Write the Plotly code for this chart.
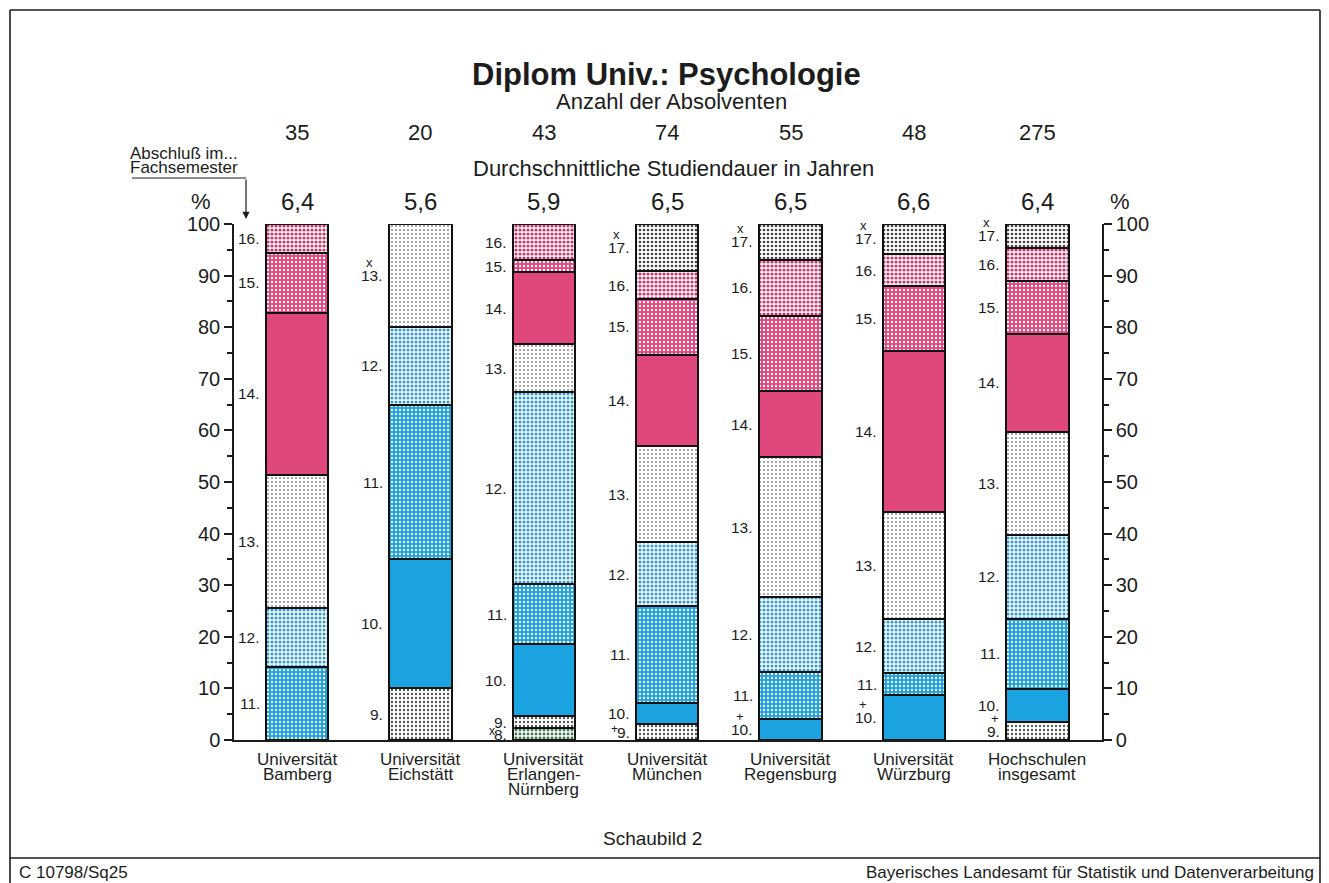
import plotly.graph_objects as go

# Diplom Univ.: Psychologie - Abschluss nach Fachsemester (Anteile in %)
universities = [
    "Universität\nBamberg",
    "Universität\nEichstätt",
    "Universität\nErlangen-\nNürnberg",
    "Universität\nMünchen",
    "Universität\nRegensburg",
    "Universität\nWürzburg",
    "Hochschulen\ninsgesamt",
]
absolventen = [35, 20, 43, 74, 55, 48, 275]
studiendauer = ["6,4", "5,6", "5,9", "6,5", "6,5", "6,6", "6,4"]
semesters = [8, 9, 10, 11, 12, 13, 14, 15, 16, 17]

# percent of graduates per semester, same order as universities
sem_08 = [None, None, 2.3, None, None, None, None]
sem_09 = [None, 10.0, 2.3, 3.1, None, None, 3.4]
sem_10 = [None, 25.0, 14.0, 4.0, 4.0, 8.8, 6.5]
sem_11 = [14.1, 30.0, 11.6, 18.8, 9.1, 4.1, 13.6]
sem_12 = [11.5, 15.0, 37.2, 12.4, 14.6, 10.5, 16.3]
sem_13 = [25.8, 20.0, 9.3, 18.7, 27.1, 20.7, 19.9]
sem_14 = [31.4, None, 14.0, 17.7, 12.8, 31.2, 19.0]
sem_15 = [11.6, None, 2.3, 10.7, 14.5, 12.6, 10.2]
sem_16 = [5.6, None, 7.0, 5.5, 11.0, 6.3, 6.5]
sem_17 = [None, None, None, 9.1, 6.9, 5.8, 4.6]

# footnote signs shown next to a semester label: (university index, semester, sign)
marks = [(1, 13, "x"), (2, 8, "x"), (3, 17, "x"), (3, 9, "+"), (4, 17, "x"),
         (4, 10, "+"), (5, 17, "x"), (5, 10, "+"), (6, 17, "x"), (6, 9, "+")]

shares = dict(zip(semesters, [sem_08, sem_09, sem_10, sem_11, sem_12,
                              sem_13, sem_14, sem_15, sem_16, sem_17]))

FONT = "Liberation Sans, Arial, Helvetica, sans-serif"
INK = "#1c1c1c"
CYAN = "#1aa3e0"
PINK = "#e0477c"

# (bgcolor, fgcolor, shape, solidity) -> dotted screens like the print
styles = {
    8: ("white", "#3d7a4c", ".", 0.42),
    9: ("white", "#555555", ".", 0.28),
    10: (CYAN, CYAN, "", 0),
    11: (CYAN, "white", ".", 0.28),
    12: ("white", "#2a9bd0", ".", 0.45),
    13: ("white", "#8a8a8a", ".", 0.2),
    14: (PINK, PINK, "", 0),
    15: (PINK, "white", ".", 0.28),
    16: ("white", "#c8336a", ".", 0.5),
    17: ("white", "#444444", ".", 0.36),
}

# page layout in screen pixels; the html body adds an 8px offset
OFF = 8
W, H = 1329 - OFF, 883 - OFF
PLOT_X0, PLOT_X1, PLOT_Y0, PLOT_Y1 = 234, 1102, 224, 740
L, R = PLOT_X0 - OFF, W - (PLOT_X1 - OFF)
T, B = PLOT_Y0 - OFF, H - (PLOT_Y1 - OFF)
PW, PH = W - L - R, H - T - B
bar_w = 0.507
x_idx = list(range(len(universities)))


def px(xp):
    return (xp - PLOT_X0) / PW


def py(yp):
    return (PLOT_Y1 - yp) / PH


fig = go.Figure()

for s in semesters:
    bg, fg, shape, sol = styles[s]
    marker = dict(color=bg, line=dict(color="#111111", width=2))
    if shape:
        marker["pattern"] = dict(shape=shape, bgcolor=bg, fgcolor=fg,
                                 size=4, solidity=sol, fillmode="replace")
    fig.add_trace(go.Bar(x=x_idx, y=shares[s], width=bar_w, marker=marker,
                         name=f"{s}.", showlegend=False, hoverinfo="skip"))

# dummy trace so the right-hand axis is drawn
fig.add_trace(go.Scatter(x=[None], y=[None], yaxis="y2", showlegend=False,
                         hoverinfo="skip"))

ann = []

# semester labels left of each segment
mark_lookup = {(u, s): m for u, s, m in marks}
for i in x_idx:
    cum = 0
    mids = []
    for s in semesters:
        v = shares[s][i]
        if v is None:
            continue
        mids.append((s, cum + v / 2))
        cum += v
    for k, (s, mid) in enumerate(mids):
        label = f"{s}."
        ann.append(dict(x=i - bar_w / 2, y=mid, xref="x", yref="y", text=label,
                        xanchor="right", yanchor="middle", xshift=-4, showarrow=False,
                        font=dict(size=15.5, color=INK)))
        if (i, s) in mark_lookup:
            lw = 8.6 * len(str(s)) + 4
            gap = (mids[k + 1][1] - mid) / 100 * PH if k + 1 < len(mids) else 99
            if gap > 24:
                ann.append(dict(x=i - bar_w / 2, y=mid, xref="x", yref="y",
                                text=mark_lookup[(i, s)], xanchor="center",
                                yanchor="middle", xshift=-4 - (lw - 6), yshift=13,
                                showarrow=False, font=dict(size=13, color=INK)))
            else:
                ann.append(dict(x=i - bar_w / 2, y=mid, xref="x", yref="y",
                                text=mark_lookup[(i, s)], xanchor="right",
                                yanchor="middle", xshift=-4 - lw + 1, yshift=3,
                                showarrow=False, font=dict(size=12, color=INK)))

# category labels under the bars, one line each
for i, name in enumerate(universities):
    for k, line in enumerate(name.split("\n")):
        ann.append(dict(x=i, y=0, xref="x", yref="paper", text=line, xanchor="center",
                        yanchor="middle", yshift=-19 - 15 * k, showarrow=False,
                        font=dict(size=17, color=INK)))

# counts and mean durations above the bars
for i in x_idx:
    ann.append(dict(x=i, y=py(133), xref="x", yref="paper", text=str(absolventen[i]),
                    showarrow=False, yanchor="middle", font=dict(size=22, color=INK)))
    ann.append(dict(x=i, y=py(202), xref="x", yref="paper", text=studiendauer[i],
                    showarrow=False, yanchor="middle", font=dict(size=24, color=INK)))

texts = [
    ("<b>Diplom Univ.: Psychologie</b>", 666, 75, 31, "center"),
    ("Anzahl der Absolventen", 671, 101, 22, "center"),
    ("Durchschnittliche Studiendauer in Jahren", 673, 168, 22, "center"),
    ("%", 201, 202, 22, "center"),
    ("%", 1120, 202, 22, "center"),
    ("Abschluß im...", 128, 153, 17, "left"),
    ("Fachsemester", 128, 167, 17, "left"),
    ("Schaubild 2", 652, 838, 19, "center"),
    ("C 10798/Sq25", 17, 872, 17, "left"),
    ("Bayerisches Landesamt für Statistik und Datenverarbeitung", 1316, 872, 17, "right"),
]
for t, xp, yp, size, anchor in texts:
    ann.append(dict(x=px(xp), y=py(yp), xref="paper", yref="paper", text=t,
                    xanchor=anchor, yanchor="middle", showarrow=False,
                    font=dict(size=size, color=INK)))

# arrow from "Fachsemester" down to the first bar
ann.append(dict(x=px(246), y=py(219), xref="paper", yref="paper", text="",
                showarrow=True, arrowhead=2, arrowsize=1.2, arrowwidth=1.2,
                arrowcolor=INK, ax=0, ay=-41))

shapes = [
    dict(type="line", xref="paper", yref="paper", x0=px(132), x1=px(246),
         y0=py(178), y1=py(178), line=dict(color=INK, width=1.2)),
    # page frame
    dict(type="line", xref="paper", yref="paper", x0=px(10), x1=px(1320),
         y0=py(10), y1=py(10), line=dict(color=INK, width=1.6)),
    dict(type="line", xref="paper", yref="paper", x0=px(10), x1=px(10),
         y0=py(10), y1=py(890), line=dict(color=INK, width=1.6)),
    dict(type="line", xref="paper", yref="paper", x0=px(1320), x1=px(1320),
         y0=py(10), y1=py(890), line=dict(color=INK, width=1.6)),
    dict(type="line", xref="paper", yref="paper", x0=px(10), x1=px(1320),
         y0=py(858), y1=py(858), line=dict(color=INK, width=1.5)),
]

yax = dict(range=[0, 100], tickvals=list(range(0, 101, 10)), ticks="outside",
           ticklen=8, tickwidth=1.5, tickcolor=INK, showline=True, linewidth=1.5,
           linecolor=INK, showgrid=False, zeroline=False, automargin=False,
           tickfont=dict(size=20, color=INK),
           minor=dict(dtick=5, ticks="outside", ticklen=5, tickwidth=1.5, tickcolor=INK))

fig.update_layout(
    width=W, height=H,
    template="none",
    barmode="stack",
    bargap=0,
    paper_bgcolor="white",
    plot_bgcolor="white",
    font=dict(family=FONT, color=INK),
    margin=dict(l=L, r=R, t=T, b=B, pad=0),
    showlegend=False,
    xaxis=dict(range=[-0.511, 6.525], showticklabels=False, ticks="", showline=True,
               linewidth=1.5, linecolor=INK, showgrid=False, zeroline=False,
               automargin=False),
    yaxis=yax,
    yaxis2=dict(yax, overlaying="y", side="right", anchor="x"),
    annotations=ann,
    shapes=shapes,
)

fig.write_html("out.html")
